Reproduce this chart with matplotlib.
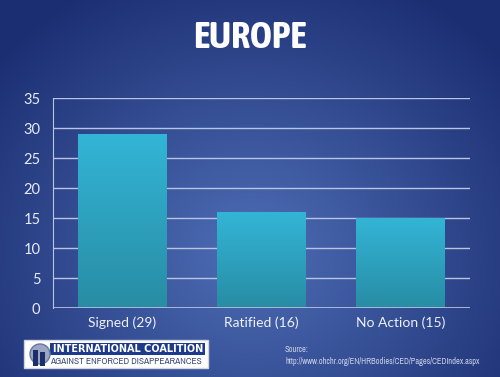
import matplotlib.pyplot as plt
import numpy as np
from matplotlib.patches import Rectangle
from matplotlib import font_manager

categories = ['Signed (29)', 'Ratified (16)', 'No Action (15)']
values = [29, 16, 15]
yticks = [0, 5, 10, 15, 20, 25, 30, 35]

# pick a narrow face if one is installed (prefer one with a bold weight), else Roboto
fl = font_manager.fontManager.ttflist
narrow_all = sorted({f.name for f in fl
                     if 'narrow' in f.name.lower() or 'condensed' in f.name.lower()})
narrow_bold = sorted({f.name for f in fl if f.name in narrow_all
                      and isinstance(f.weight, int) and f.weight >= 600})
narrow = narrow_all[:1] + ['Roboto', 'DejaVu Sans']
narrow_b = (narrow_bold[:1] or narrow_all[:1]) + ['Roboto', 'DejaVu Sans']

W, H = 500, 377
fig = plt.figure(figsize=(W / 100, H / 100), dpi=100)

# radial blue background
bg = fig.add_axes([0, 0, 1, 1])
yy, xx = np.mgrid[0:H, 0:W]
r = np.sqrt(((xx - 250) / 330.0) ** 2 + ((yy - 250) / 300.0) ** 2)
r = np.clip(r, 0, 1)
c0 = np.array([0x4e, 0x6e, 0xb6]) / 255
c1 = np.array([0x1c, 0x2e, 0x72]) / 255
img = c0[None, None, :] * (1 - r[..., None]) + c1[None, None, :] * r[..., None]
bg.imshow(img, extent=[0, W, H, 0], aspect='auto')
bg.set_xlim(0, W)
bg.set_ylim(H, 0)
bg.axis('off')

# chart axes: x 53..470, y 98..308 px
ax = fig.add_axes([53 / W, 1 - 308 / H, (470 - 53) / W, (308 - 98) / H])
ax.patch.set_alpha(0)
x = np.arange(len(categories))
bars = ax.bar(x, values, width=0.64, color='none', zorder=3)
grad = np.linspace(0, 1, 256)[:, None]
top = np.array([0x33, 0xb5, 0xd6]) / 255
bot = np.array([0x28, 0x8c, 0xa4]) / 255
gimg = top[None, None, :] * (1 - grad[..., None]) + bot[None, None, :] * grad[..., None]
for b in bars:
    bx, by = b.get_x(), b.get_y()
    ax.imshow(gimg, extent=[bx, bx + b.get_width(), by, by + b.get_height()],
              aspect='auto', zorder=3)
ax.set_xlim(-0.5, 2.5)
ax.set_ylim(0, 35)
ax.set_yticks(yticks)
ax.set_xticks(x)
ax.set_xticklabels(categories, family=['Lato', 'DejaVu Sans'])
ax.set_yticklabels([str(v) for v in yticks], family=['Lato', 'DejaVu Sans'])
ax.grid(axis='y', color='#b8c4e4', linewidth=1, zorder=0)
for s in ['top', 'right', 'bottom']:
    ax.spines[s].set_visible(False)
ax.spines['left'].set_color('#b8c4e4')
ax.axhline(0, color='#b8c4e4', linewidth=1.2, zorder=4)
ax.tick_params(axis='y', length=0, pad=9, labelsize=10.5, labelcolor='#e8ecf6')
ax.tick_params(axis='x', length=0, pad=6, labelsize=10, labelcolor='#eef1f8')

fig.text(0.5, 1 - 38 / H, 'EUROPE', ha='center', va='center', color='white',
         fontsize=27, fontweight='bold', family=narrow_b)

fig.text(285 / W, 1 - 350 / H, 'Source:', color='#c8d0e8', fontsize=6,
         family=narrow, va='center')
fig.text(285 / W, 1 - 362 / H,
         'http://www.ohchr.org/EN/HRBodies/CED/Pages/CEDIndex.aspx',
         color='#c8d0e8', fontsize=6, family=narrow, va='center')

# logo box
bg.add_patch(Rectangle((24, 340), 184, 28, facecolor='white', edgecolor='#d0d4e0'))
bg.add_patch(Rectangle((50, 343), 155, 12, facecolor='#1d3a8c'))
bg.text(128, 349.5, 'INTERNATIONAL COALITION', color='white', fontsize=7,
        fontweight='bold', ha='center', va='center', family='DejaVu Sans')
bg.text(126, 362, 'AGAINST ENFORCED DISAPPEARANCES', color='#3a4a7a', fontsize=6.8,
        ha='center', va='center', family=narrow)
bg.add_patch(plt.Circle((40, 354), 10, facecolor='#9aa6c4', edgecolor='#6a78a0'))
bg.add_patch(Rectangle((33, 350), 5, 16, facecolor='#1d2f6a'))
bg.add_patch(Rectangle((40, 352), 5, 14, facecolor='#1d2f6a'))

fig.savefig('out.png', dpi=100)
